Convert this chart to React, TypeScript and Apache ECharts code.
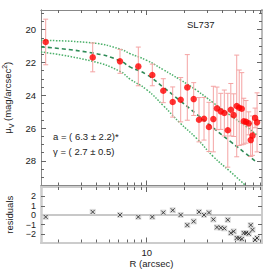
import React, { useEffect, useRef } from "react";
import * as echarts from "echarts";

// ---- data ----
const radiusArcsec = [1.58, 3.73, 6.14, 8.58, 11.08, 13.54, 16.08, 18.61, 21.0, 23.6, 26.0, 28.5, 31.2, 33.8, 36.1, 38.7, 41.3, 44.0, 46.5, 49.0, 51.8, 54.2, 56.8, 58.9, 61.4, 64.5, 66.9, 69.1, 72.4, 75.1];
const surfaceBrightness = [20.75, 21.69, 21.93, 22.24, 22.76, 23.72, 24.41, 24.27, 23.52, 24.23, 25.49, 25.43, 25.93, 25.45, 24.8, 24.98, 25.08, 26.13, 24.88, 25.21, 24.65, 24.76, 24.82, 25.58, 25.62, 25.71, 26.73, 26.46, 25.38, 25.65];
const brightnessError = [1.39, 0.88, 0.73, 1.18, 0.66, 0.73, 0.92, 1.35, 2.0, 1.0, 1.35, 1.3, 1.5, 2.0, 1.3, 1.1, 1.4, 2.25, 1.6, 1.3, 3.1, 2.3, 2.2, 1.4, 1.3, 0.7, 1.0, 1.2, 0.6, 1.8];
const residualValues = [-0.18, 0.35, 0.03, -0.18, -0.18, 0.28, 0.53, 0.03, -1.05, -0.66, 0.35, 0.03, 0.28, -0.45, -1.29, -1.34, -1.4, -0.49, -1.89, -1.72, -2.42, -2.45, -2.53, -1.89, -1.89, -1.97, -1.05, -1.55, -2.63, -2.42];

const modelRadius = [1.45, 3.73, 6.14, 7.37, 10, 13.55, 18.4, 24.9, 33.7, 45.8, 62.0, 74.5];
const modelCentral = [21.05, 21.42, 21.89, 22.27, 22.74, 23.51, 24.33, 25.15, 25.98, 26.8, 27.59, 28.08];
const modelUpper = [20.65, 20.81, 21.18, 21.46, 21.87, 22.44, 23.05, 23.7, 24.45, 25.21, 25.93, 26.4];
const lowerRadius = [1.45, 3.73, 6.14, 7.37, 10, 13.55, 18.4, 24.9, 33.7, 45.8, 60];
const modelLower = [21.36, 21.93, 22.54, 23.01, 23.66, 24.63, 25.69, 26.63, 27.73, 28.64, 29.45];

const xMajorTicks = [10];
const xMinorTicks = [2, 3, 4, 5, 6, 7, 8, 9, 20, 30, 40, 50, 60, 70, 80];
const muMajorTicks = [20, 22, 24, 26, 28];
const muMinorTicks = [19, 19.5, 20.5, 21, 21.5, 22.5, 23, 23.5, 24.5, 25, 25.5, 26.5, 27, 27.5, 28.5, 29];
const residualTicks = [-2, -1, 0, 1, 2];

const FONT = "Liberation Sans";
const TEXT = "#222";
const X_MIN = Math.log10(1.45);
const X_MAX = Math.log10(82.2);

function xAxisDef(grid: number, pos: string, ticks: number[], len: number, lineColor: string, lineWidth: number, extra: any = {}) {
  return {
    type: "value",
    gridIndex: grid,
    position: pos,
    min: X_MIN,
    max: X_MAX,
    axisLine: { show: true, onZero: false, lineStyle: { color: lineColor, width: lineWidth } },
    axisTick: { show: true, inside: true, length: len, customValues: ticks.map((t) => Math.log10(t)), lineStyle: { color: "#666", width: 1 } },
    axisLabel: { show: false },
    splitLine: { show: false },
    ...extra,
  };
}

function yAxisDef(grid: number, pos: string, min: number, max: number, inverse: boolean, ticks: number[], len: number, lineColor: string, lineWidth: number, extra: any = {}) {
  return {
    type: "value",
    gridIndex: grid,
    position: pos,
    min,
    max,
    inverse,
    axisLine: { show: true, onZero: false, lineStyle: { color: lineColor, width: lineWidth } },
    axisTick: { show: true, inside: true, length: len, customValues: ticks, lineStyle: { color: "#666", width: 1 } },
    axisLabel: { show: false },
    splitLine: { show: false },
    ...extra,
  };
}

export default function App() {
  const ref = useRef<HTMLDivElement>(null);

  useEffect(() => {
    if (!ref.current) return;
    const chart = echarts.init(ref.current, null, { renderer: "svg" });

    const points = radiusArcsec.map((r, i) => [Math.log10(r), surfaceBrightness[i]]);
    const errors = radiusArcsec.map((r, i) => [Math.log10(r), surfaceBrightness[i] - brightnessError[i], surfaceBrightness[i] + brightnessError[i]]);
    const resid = radiusArcsec.map((r, i) => [Math.log10(r), residualValues[i]]);
    const central = modelRadius.map((r, i) => [Math.log10(r), modelCentral[i]]);
    const upper = modelRadius.map((r, i) => [Math.log10(r), modelUpper[i]]);
    const lower = lowerRadius.map((r, i) => [Math.log10(r), modelLower[i]]);

    const labelStyle = { fontFamily: FONT, fontSize: 9.5, color: TEXT };

    const option: any = {
      animation: false,
      backgroundColor: "#fff",
      grid: [
        { left: 41, top: 10, width: 221, height: 175.5, outerBoundsMode: "none" },
        { left: 41, top: 187, width: 221, height: 55.5, outerBoundsMode: "none" },
      ],
      xAxis: [
        xAxisDef(0, "bottom", xMinorTicks, 3, "#888", 1),
        xAxisDef(0, "bottom", xMajorTicks, 5, "#888", 1),
        xAxisDef(0, "top", xMinorTicks, 3, "#888", 1),
        xAxisDef(0, "top", xMajorTicks, 5, "#888", 1),
        xAxisDef(1, "bottom", xMinorTicks, 3, "#ccc", 2, {
          axisLabel: {
            show: true,
            customValues: [1],
            formatter: (v: number) => String(Math.round(Math.pow(10, v))),
            margin: 5,
            ...labelStyle,
          },
          name: "R (arcsec)",
          nameLocation: "middle",
          nameGap: 16,
          nameTextStyle: labelStyle,
        }),
        xAxisDef(1, "bottom", xMajorTicks, 5, "#ccc", 2),
        xAxisDef(1, "top", xMinorTicks, 3, "#ccc", 2),
        xAxisDef(1, "top", xMajorTicks, 5, "#ccc", 2),
      ],
      yAxis: [
        yAxisDef(0, "left", 18.8, 29.5, true, muMajorTicks, 5, "#888", 1, {
          axisLabel: { show: true, customValues: muMajorTicks, interval: 0, hideOverlap: false, formatter: (v: number) => String(v), margin: 5, ...labelStyle },
          name: "{a|μ}{b|V}{a| (mag/arcsec}{c|2}{a|)}",
          nameLocation: "middle",
          nameGap: 17,
          nameRotate: 90,
          nameTextStyle: {
            ...labelStyle,
            rich: {
              a: { fontFamily: FONT, fontSize: 9.5, color: TEXT, lineHeight: 14 },
              b: { fontFamily: FONT, fontSize: 7, color: TEXT, lineHeight: 9, verticalAlign: "bottom" },
              c: { fontFamily: FONT, fontSize: 7, color: TEXT, lineHeight: 9, verticalAlign: "top" },
            },
          },
        }),
        yAxisDef(0, "left", 18.8, 29.5, true, muMinorTicks, 3, "#888", 1),
        yAxisDef(0, "right", 18.8, 29.5, true, muMajorTicks, 5, "#bbb", 2),
        yAxisDef(0, "right", 18.8, 29.5, true, muMinorTicks, 3, "#bbb", 2),
        yAxisDef(1, "left", -2.9, 3.0, false, residualTicks, 4, "#ccc", 2.5, {
          axisLabel: {
            show: true,
            customValues: residualTicks,
            interval: 0,
            hideOverlap: false,
            showMinLabel: true,
            showMaxLabel: true,
            formatter: (v: number) => (v < 0 ? "\u2212" + Math.abs(v) : String(v)),
            margin: 5,
            fontFamily: FONT,
            fontSize: 9,
            lineHeight: 8,
            color: TEXT,
          },
          name: "residuals",
          nameLocation: "middle",
          nameGap: 19,
          nameRotate: 90,
          nameTextStyle: labelStyle,
        }),
        yAxisDef(1, "right", -2.9, 3.0, false, residualTicks, 4, "#ccc", 2),
      ],
      series: [
        {
          type: "line",
          xAxisIndex: 0,
          yAxisIndex: 0,
          data: upper,
          smooth: true,
          showSymbol: false,
          lineStyle: { color: "#4cb06a", width: 1.5, type: "dotted" },
          z: 2,
        },
        {
          type: "line",
          xAxisIndex: 0,
          yAxisIndex: 0,
          data: lower,
          smooth: true,
          showSymbol: false,
          lineStyle: { color: "#4cb06a", width: 1.5, type: "dotted" },
          z: 2,
        },
        {
          type: "line",
          xAxisIndex: 0,
          yAxisIndex: 0,
          data: central,
          smooth: true,
          showSymbol: false,
          lineStyle: { color: "#2e8b57", width: 1.6, type: [4, 3] },
          z: 2,
        },
        {
          type: "custom",
          xAxisIndex: 0,
          yAxisIndex: 0,
          data: errors,
          encode: { x: 0, y: [1, 2] },
          clip: true,
          z: 3,
          renderItem: (params: any, api: any) => {
            const x = api.value(0);
            const lo = api.coord([x, api.value(1)]);
            const hi = api.coord([x, api.value(2)]);
            const w = 2.5;
            const style = { stroke: "#f4a3a3", lineWidth: 1 };
            return {
              type: "group",
              children: [
                { type: "line", shape: { x1: lo[0], y1: lo[1], x2: hi[0], y2: hi[1] }, style },
                { type: "line", shape: { x1: lo[0] - w, y1: lo[1], x2: lo[0] + w, y2: lo[1] }, style },
                { type: "line", shape: { x1: hi[0] - w, y1: hi[1], x2: hi[0] + w, y2: hi[1] }, style },
              ],
            };
          },
        },
        {
          type: "scatter",
          xAxisIndex: 0,
          yAxisIndex: 0,
          data: points,
          symbol: "circle",
          symbolSize: 6.5,
          itemStyle: { color: "#ff0000" },
          z: 4,
        },
        {
          type: "scatter",
          xAxisIndex: 4,
          yAxisIndex: 4,
          data: resid,
          symbol: "rect",
          symbolSize: 6,
          itemStyle: { color: "#d4d4d4" },
          z: 3,
          markLine: {
            silent: true,
            symbol: ["none", "none"],
            label: { show: false },
            lineStyle: { color: "#c8c8c8", width: 2, type: "solid" },
            data: [{ yAxis: 0 }],
            z: 1,
          },
        },
        {
          type: "scatter",
          xAxisIndex: 4,
          yAxisIndex: 4,
          data: resid,
          symbol: "path://M0,0L10,10M10,0L0,10",
          symbolSize: 4,
          itemStyle: { color: "transparent", borderColor: "#222", borderWidth: 1 },
          z: 4,
        },
      ],
      graphic: [
        { type: "text", left: 187, top: 19, style: { text: "SL737", fontFamily: FONT, fontSize: 9.5, fill: TEXT } },
        { type: "text", left: 53, top: 131, style: { text: "a = ( 6.3 \u00b1 2.2)*", fontFamily: FONT, fontSize: 9.5, fill: TEXT } },
        { type: "text", left: 53, top: 146, style: { text: "\u03b3 = ( 2.7 \u00b1 0.5)", fontFamily: FONT, fontSize: 9.5, fill: TEXT } },
      ],
    };

    chart.setOption(option);
    return () => chart.dispose();
  }, []);

  return <div ref={ref} style={{ position: "absolute", left: 0, top: 0, width: 270, height: 270, background: "#fff" }} />;
}
